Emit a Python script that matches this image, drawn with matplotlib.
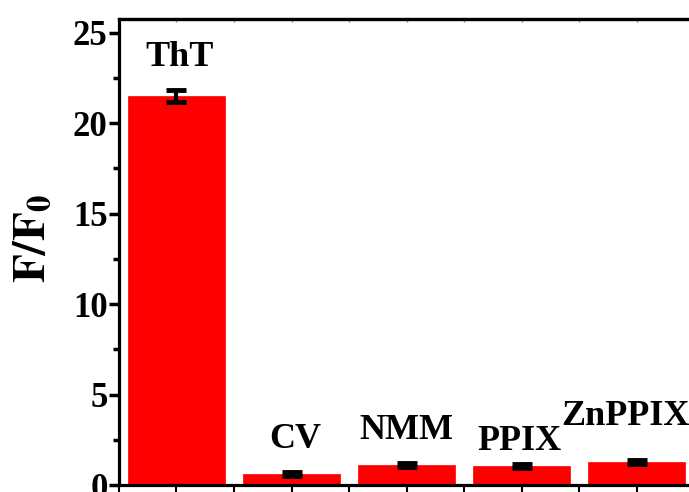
import matplotlib
matplotlib.use('Agg')
import matplotlib.pyplot as plt
import numpy as np
from matplotlib.ticker import MultipleLocator

# data
names = ['ThT', 'CV', 'NMM', 'PPIX', 'ZnPPIX']
ratio = [21.5, 0.62, 1.12, 1.05, 1.28]
err = [0.35, 0.1, 0.1, 0.1, 0.1]
label_y = [23.6, 2.5, 3.0, 2.4, 3.8]
label_dx = [0.03, 0.03, 0.0, -0.02, -0.1]

plt.rcParams['font.family'] = ['Liberation Serif', 'DejaVu Serif']
plt.rcParams['font.weight'] = 'bold'
plt.rcParams['mathtext.fontset'] = 'stix'

fig = plt.figure(figsize=(6.89, 4.92), dpi=100)
ax = fig.add_axes([0.1725, 0.0142, 0.8353, 0.947])

x = np.arange(1, len(names) + 1)
ax.bar(x, ratio, width=0.84, color='#ff0000', edgecolor='#ff0000', linewidth=0.5, zorder=2)
ax.errorbar(x, ratio, yerr=err, fmt='none', ecolor='black', elinewidth=3,
            capsize=7.5, capthick=3.5, zorder=3)

for xi, yi, dx, name in zip(x, label_y, label_dx, names):
    ax.text(xi + dx, yi, name, ha='center', va='center', fontsize=26,
            fontweight='bold')

ax.set_xlim(0.5, 5.5)
ax.set_ylim(0, 25.75)
ax.xaxis.set_major_locator(MultipleLocator(1))
ax.xaxis.set_minor_locator(MultipleLocator(0.5))
ax.yaxis.set_major_locator(MultipleLocator(5))
ax.yaxis.set_minor_locator(MultipleLocator(2.5))
ax.set_xticklabels([])
ax.tick_params(axis='y', which='major', direction='out', length=7, width=2.5,
               labelsize=25, pad=1)
ax.tick_params(axis='y', which='minor', direction='out', length=4, width=2.5)
ax.tick_params(axis='x', which='both', direction='out', length=5, width=1.5,
               labelbottom=False)

# faint inward ticks on the top edge
sec = ax.secondary_xaxis('top')
sec.xaxis.set_major_locator(MultipleLocator(0.5))
sec.tick_params(direction='in', length=2, width=1, labeltop=False, colors='#888888')
sec.spines['top'].set_linewidth(2.3)
sec.spines['top'].set_color('black')

for lab in ax.get_yticklabels():
    lab.set_fontweight('bold')
for sp in ax.spines.values():
    sp.set_linewidth(2.3)

ax.text(-0.148, 0.53, r'$\mathbf{F/F_0}$', transform=ax.transAxes,
        rotation=90, ha='center', va='center', fontsize=34)

fig.savefig('out.png', dpi=100)
